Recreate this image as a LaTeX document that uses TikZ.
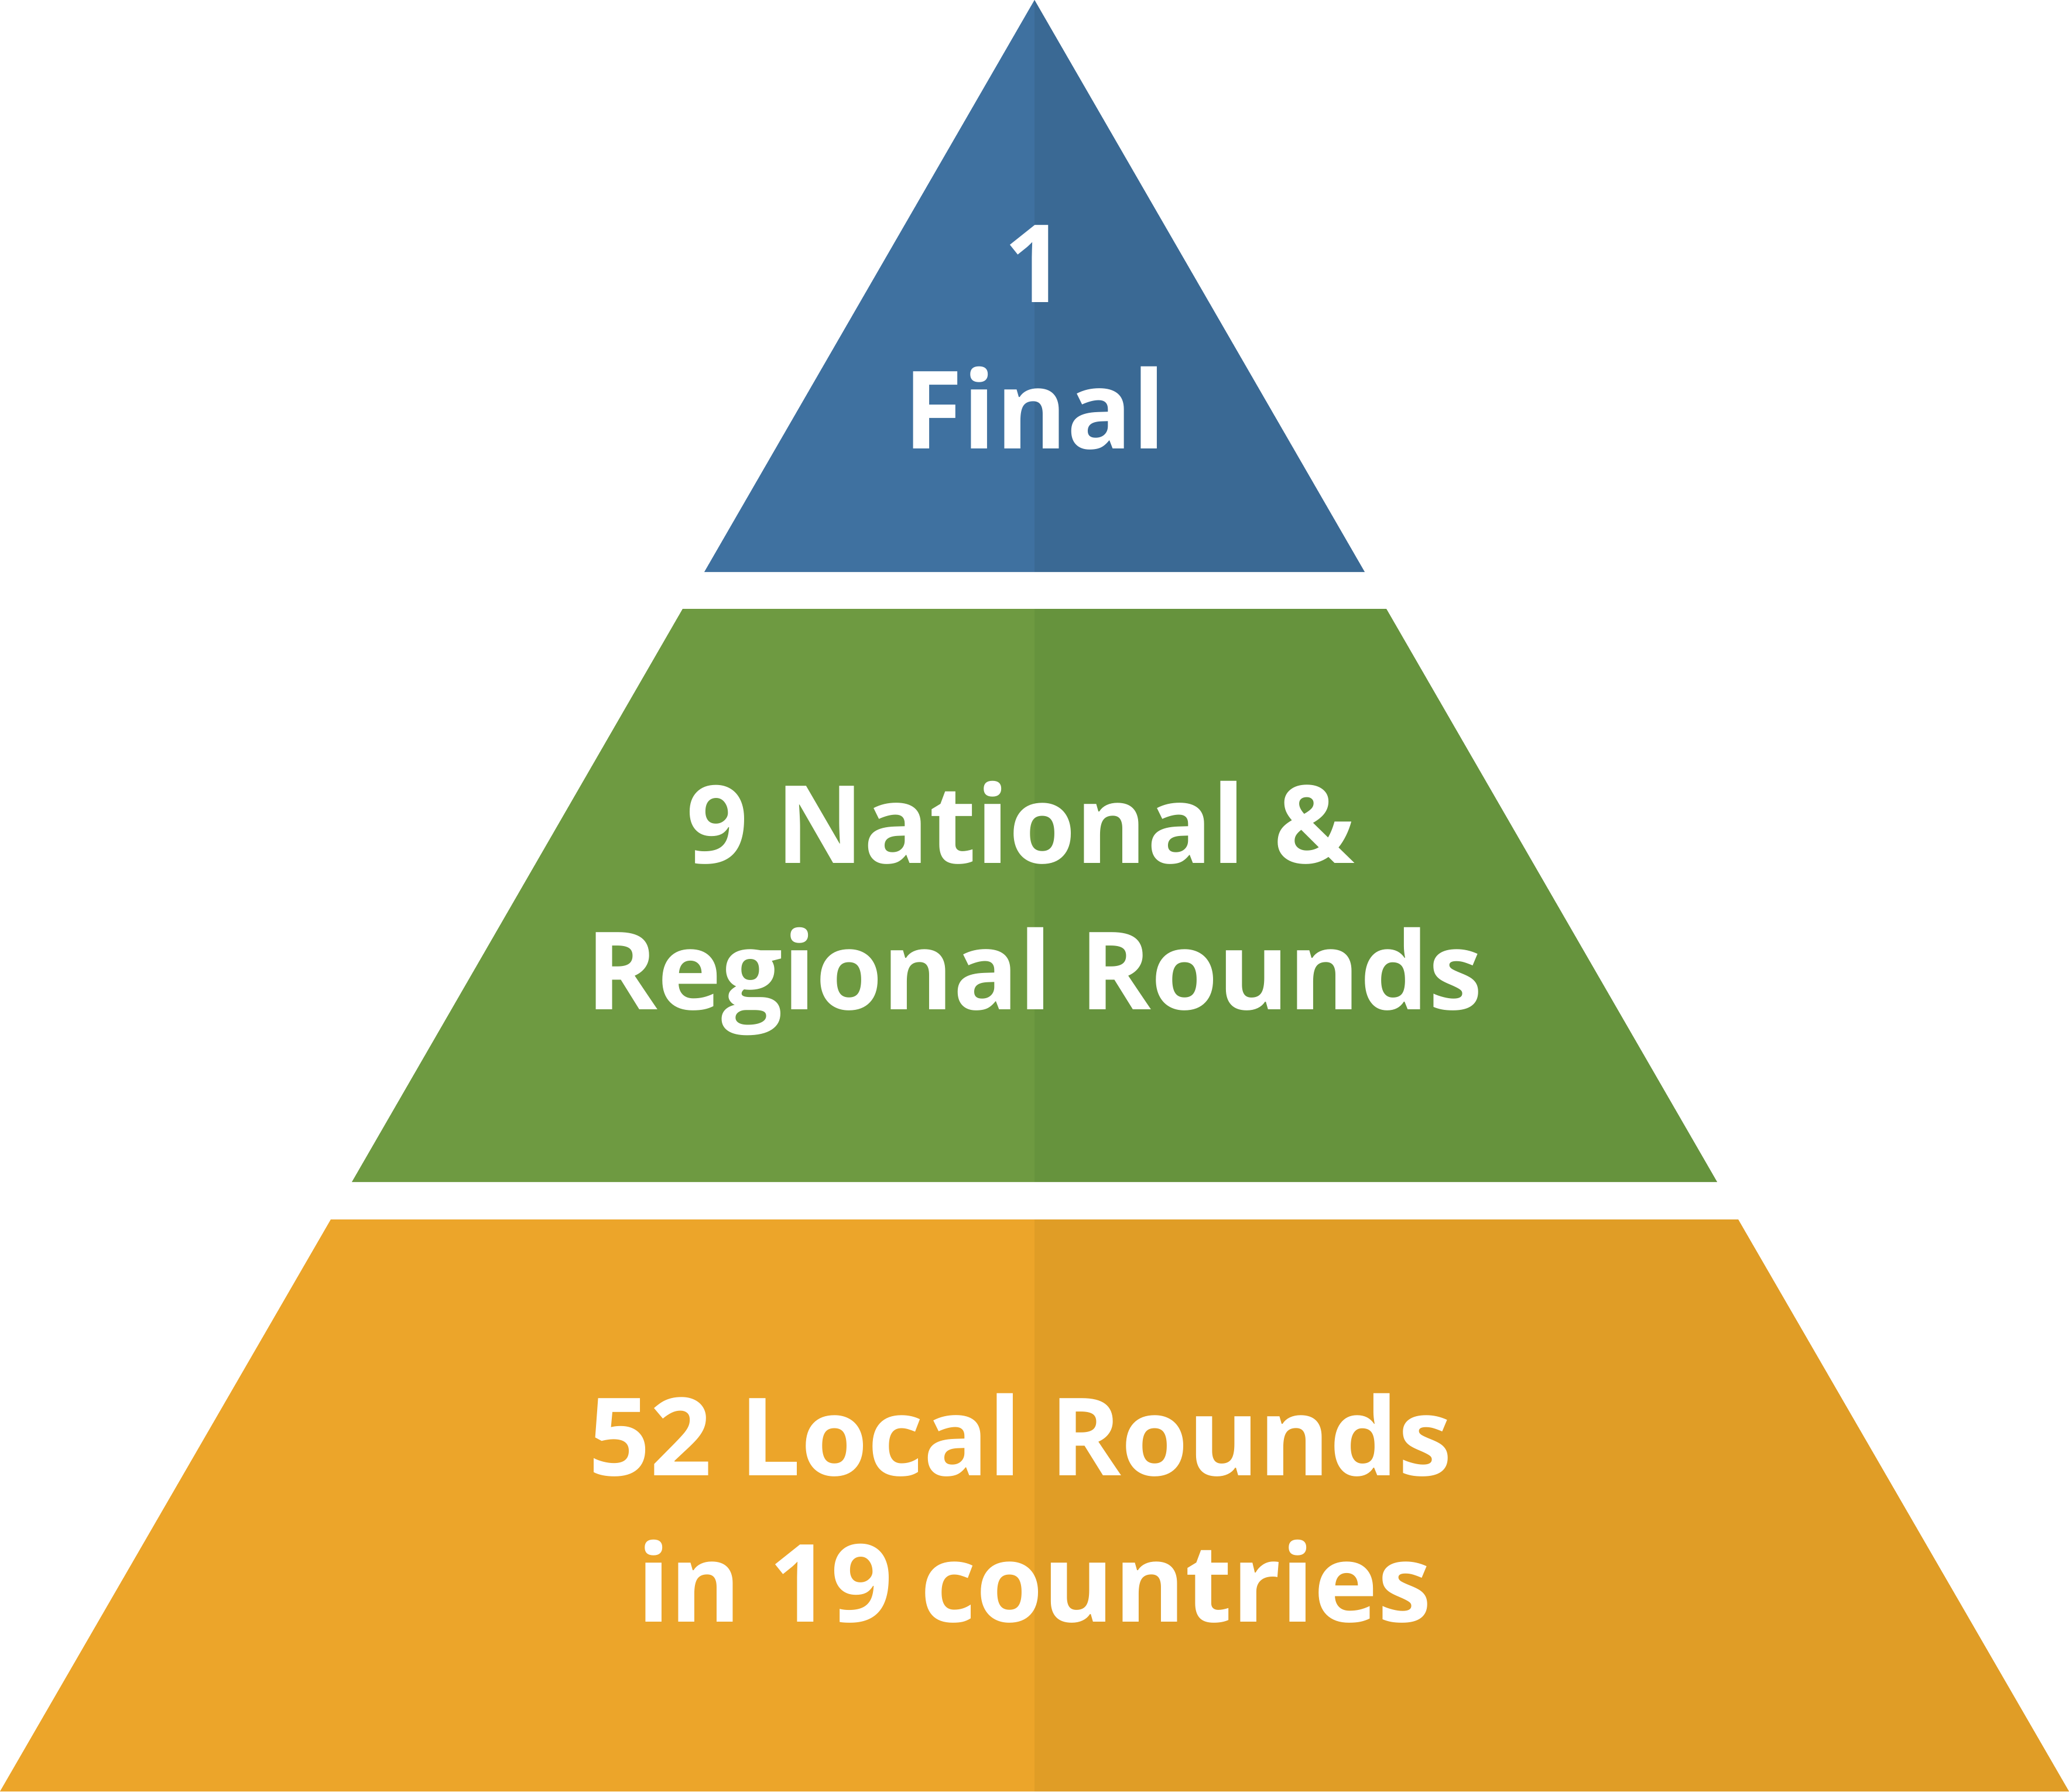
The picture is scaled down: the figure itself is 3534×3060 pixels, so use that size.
\documentclass[tikz,border=0pt]{standalone}
\usepackage{fontspec}
\setmainfont{Open Sans}[BoldFont={* Bold}]
\definecolor{blueL}{HTML}{3F71A0}
\definecolor{blueR}{HTML}{3A6994}
\definecolor{greenL}{HTML}{6E9A41}
\definecolor{greenR}{HTML}{66933D}
\definecolor{orangeL}{HTML}{ECA52A}
\definecolor{orangeR}{HTML}{E09D26}
\tikzset{
  lbl/.style={anchor=base, text=white, font=\fontsize{52.5pt}{71pt}\selectfont\bfseries, inner sep=0pt}
}
\begin{document}
\begin{tikzpicture}[x=0.01cm,y=-0.01cm]
\useasboundingbox (0,0) rectangle (3534,3060);
% full triangle: apex (1767,0), base (0,3060)-(3534,3060)
% top level
\fill[blueL] (1767,0) -- (1203,977) -- (1767,977) -- cycle;
\fill[blueR] (1767,0) -- (2331,977) -- (1767,977) -- cycle;
% middle level
\fill[greenL] (1166,1040) -- (1767,1040) -- (1767,2019) -- (601,2019) -- cycle;
\fill[greenR] (1767,1040) -- (2368,1040) -- (2933,2019) -- (1767,2019) -- cycle;
% bottom level
\fill[orangeL] (565,2083) -- (1767,2083) -- (1767,3060) -- (0,3060) -- cycle;
\fill[orangeR] (1767,2083) -- (2969,2083) -- (3534,3060) -- (1767,3060) -- cycle;
% labels
\node[lbl] (t1a) at (1767,516) {1};
\node[lbl] (t1b) at (1767,766) {Final};
\node[lbl] (t2a) at (1767,1474) {9 National \&\hphantom{\ }};
\node[lbl] (t2b) at (1767,1724) {Regional Rounds};
\node[lbl] (t3a) at (1767,2520) {52 Local Rounds\hphantom{\ }};
\node[lbl] (t3b) at (1767,2770) {in 19 countries};
\end{tikzpicture}
\end{document}
